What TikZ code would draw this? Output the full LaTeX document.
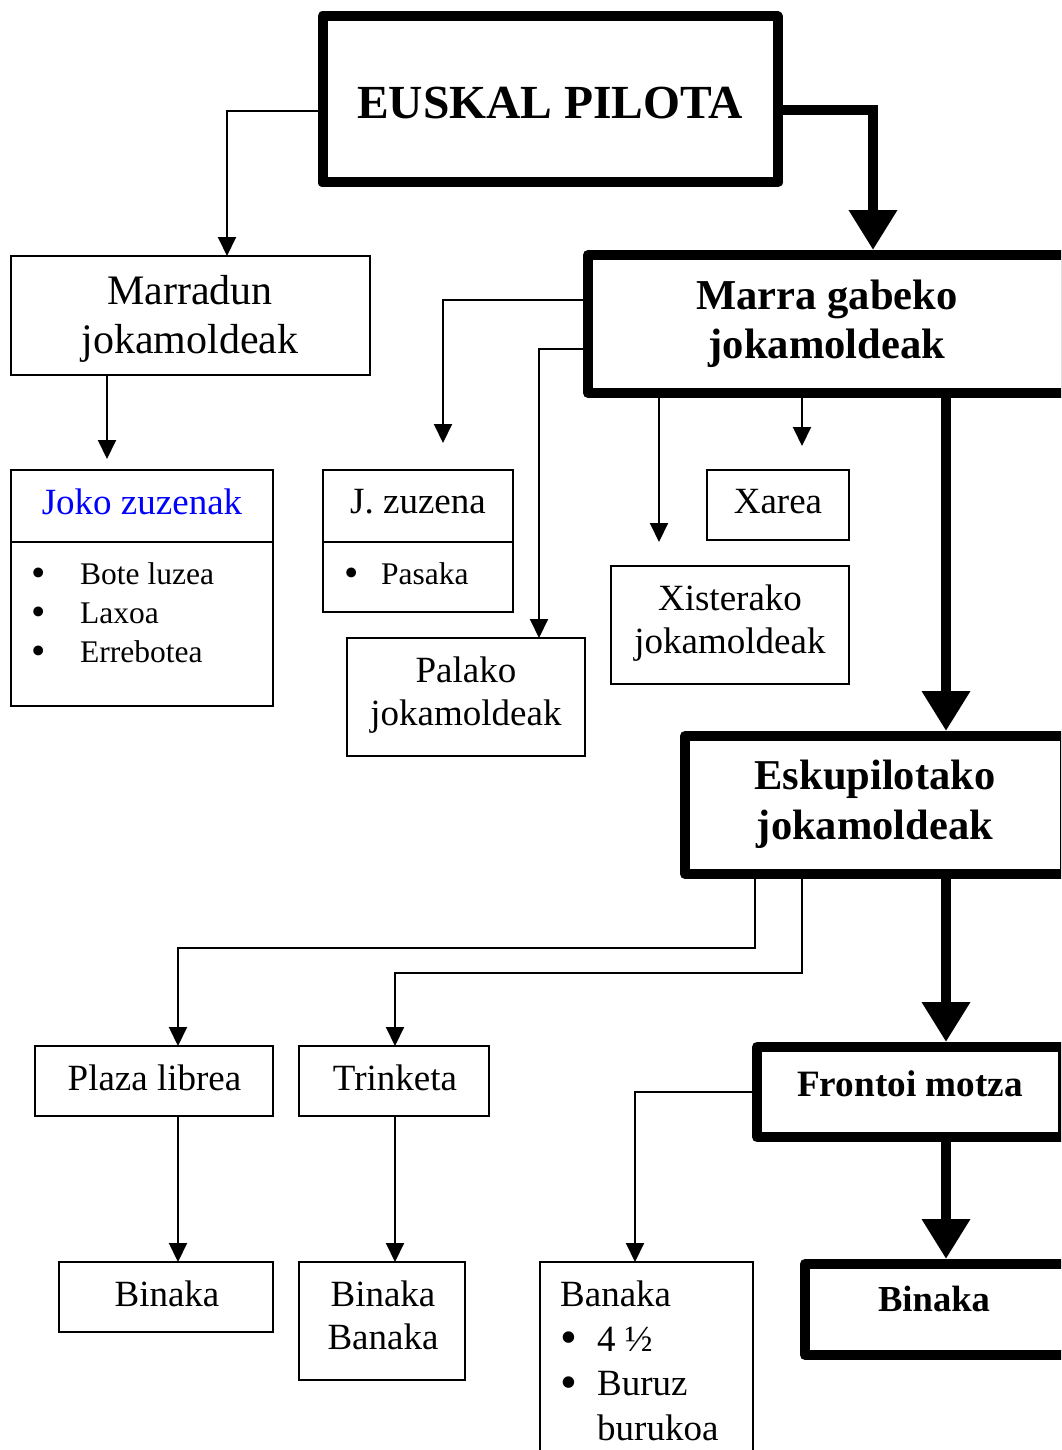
\documentclass[tikz,border=0pt]{standalone}
\usepackage{fontspec}
\setmainfont{Liberation Serif}
\usetikzlibrary{arrows.meta}
\definecolor{jokoblue}{RGB}{0,0,255}
% bullet set in a fixed-width slot
\newcommand\blt[1]{\makebox[#1][l]{\raisebox{-2.5pt}{\scalebox{1.3}{\textbullet}}}}

\tikzset{
  thinbox/.style={draw, line width=2.2pt, anchor=north west, inner sep=0pt, outer sep=0pt},
  thickbox/.style={draw, line width=10pt, line join=round, anchor=north west, inner sep=0pt, outer sep=0pt},
  txt/.style={inner sep=0pt, align=center},
  lst/.style={inner sep=0pt, align=left, anchor=north west},
  fa/.style={font=\fontsize{37}{43}\selectfont},
  fb/.style={font=\fontsize{42}{49}\selectfont},
  fs/.style={font=\fontsize{31.5}{39}\selectfont},
  thinarrow/.style={line width=2pt, -{Triangle[width=18pt,length=19pt]}},
  thickarrow/.style={line width=10pt, -{Triangle[width=46pt,length=40pt]}, shorten >=5pt}
}

\begin{document}
\begin{tikzpicture}[x=1pt,y=-1pt]
\useasboundingbox (0,0) rectangle (1061,1450);
\clip (0,0) rectangle (1061,1450);

% ---- boxes ----
\node[thickbox, minimum width=455pt, minimum height=166pt] (euskal) at (322.5,16.5) {};
\node[thinbox, minimum width=359pt, minimum height=119pt] (marradun) at (11,256) {};
\node[thickbox, minimum width=478pt, minimum height=138pt] (marra) at (588,255) {};
\node[thinbox, minimum width=262pt, minimum height=236pt] (joko) at (11,470) {};
\node[thinbox, minimum width=190pt, minimum height=142pt] (jzuz) at (323,470) {};
\node[thinbox, minimum width=238pt, minimum height=118pt] (palako) at (347,638) {};
\node[thinbox, minimum width=142pt, minimum height=70pt] (xarea) at (707,470) {};
\node[thinbox, minimum width=238pt, minimum height=118pt] (xist) at (611,566) {};
\node[thickbox, minimum width=380pt, minimum height=138pt] (esku) at (685,736) {};
\node[thinbox, minimum width=238pt, minimum height=70pt] (plaza) at (35,1046) {};
\node[thinbox, minimum width=190pt, minimum height=70pt] (trink) at (299,1046) {};
\node[thickbox, minimum width=306pt, minimum height=90pt] (frontoi) at (757,1047) {};
\node[thinbox, minimum width=214pt, minimum height=70pt] (binL) at (59,1262) {};
\node[thinbox, minimum width=166pt, minimum height=118pt] (binban) at (299,1262) {};
\node[thinbox, minimum width=213pt, minimum height=220pt] (banaka) at (540,1262) {};
\node[thickbox, minimum width=263pt, minimum height=91pt] (binB) at (805,1264) {};

% dividers of the two-part boxes
\draw[line width=2.2pt] ([yshift=-72pt]joko.north west) -- ([yshift=-72pt]joko.north east);
\draw[line width=2.2pt] ([yshift=-72pt]jzuz.north west) -- ([yshift=-72pt]jzuz.north east);

% ---- texts ----
\node[txt, font=\bfseries\fontsize{47.5}{54}\selectfont] (t-euskal) at (550,103) {EUSKAL PILOTA};
\node[txt, fb] (t-marradun) at (190,319) {Marradun\\jokamoldeak};
\node[txt, font=\bfseries\fontsize{42.6}{49}\selectfont] (t-marra) at (827,323.5) {Marra gabeko\\jokamoldeak};
\node[txt, fa, text=jokoblue] (t-joko) at (142,502) {Joko zuzenak};
\node[lst, fs] (t-jokolist) at (31,562) {\blt{49pt}Bote luzea\\\blt{49pt}Laxoa\\\blt{49pt}Errebotea};
\node[txt, fa] (t-jzuz) at (418,502) {J. zuzena};
\node[lst, fs] (t-pasaka) at (344,562) {\blt{37pt}Pasaka};
\node[txt, fa] (t-palako) at (466,695.5) {Palako\\jokamoldeak};
\node[txt, fa] (t-xarea) at (778,502) {Xarea};
\node[txt, fa] (t-xist) at (730,623.5) {Xisterako\\jokamoldeak};
\node[txt, font=\bfseries\fontsize{42.5}{50}\selectfont] (t-esku) at (875,804) {Eskupilotako\\jokamoldeak};
\node[txt, fa] (t-plaza) at (154.5,1078) {Plaza librea};
\node[txt, fa] (t-trink) at (395,1078) {Trinketa};
\node[txt, font=\bfseries\fontsize{37.2}{43}\selectfont] (t-frontoi) at (910,1084) {Frontoi motza};
\node[txt, fa] (t-binL) at (167,1294) {Binaka};
\node[txt, fa] (t-binban) at (383,1315.5) {Binaka\\Banaka};
\node[lst, font=\fontsize{37}{44.5}\selectfont] (t-banaka) at (560,1281) {Banaka\\\blt{37pt}4 ½\\\blt{37pt}Buruz\\\hspace*{37pt}burukoa};
\node[txt, font=\bfseries\fontsize{36.6}{43}\selectfont] (t-binB) at (934,1299) {Binaka};

% ---- connectors ----
\draw[thinarrow] ([yshift=-11.5pt]euskal.west) -| ([xshift=36.5pt]marradun.north);
\draw[thickarrow] ([yshift=-10.5pt]euskal.east) -| ([xshift=46pt]marra.north);

\coordinate (jokotip) at ([xshift=-35pt,yshift=11pt]joko.north);
\draw[thinarrow] ([xshift=-83.5pt]marradun.south) -- (jokotip);

\coordinate (jzuztip) at ([xshift=25pt,yshift=27pt]jzuz.north);
\draw[thinarrow] ([yshift=24pt]marra.west) -| (jzuztip);
\draw[thinarrow] ([yshift=-25pt]marra.west) -| ([xshift=73pt]palako.north);

\coordinate (xisttip) at ([xshift=-71pt,yshift=24pt]xist.north);
\draw[thinarrow] ([xshift=-168pt]marra.south) -- (xisttip);
\coordinate (xareatip) at ([xshift=24pt,yshift=24pt]xarea.north);
\draw[thinarrow] ([xshift=-25pt]marra.south) -- (xareatip);
\draw[thickarrow] ([xshift=119pt]marra.south) -- ([xshift=71pt]esku.north);

\draw[thinarrow] ([xshift=-120pt]esku.south) -- ++(0,74) -| ([xshift=24pt]plaza.north);
\draw[thinarrow] ([xshift=-73pt]esku.south) -- ++(0,99) -| ([xshift=1pt]trink.north);
\draw[thickarrow] ([xshift=71pt]esku.south) -- ([xshift=36pt]frontoi.north);

\draw[thinarrow] (frontoi.west) -| ([xshift=-11.5pt]banaka.north);
\draw[thickarrow] ([xshift=36pt]frontoi.south) -- ([xshift=9.5pt]binB.north);

\draw[thinarrow] ([xshift=24pt]plaza.south) -- ([xshift=12pt]binL.north);
\draw[thinarrow] ([xshift=1pt]trink.south) -- ([xshift=13pt]binban.north);
\end{tikzpicture}
\end{document}
